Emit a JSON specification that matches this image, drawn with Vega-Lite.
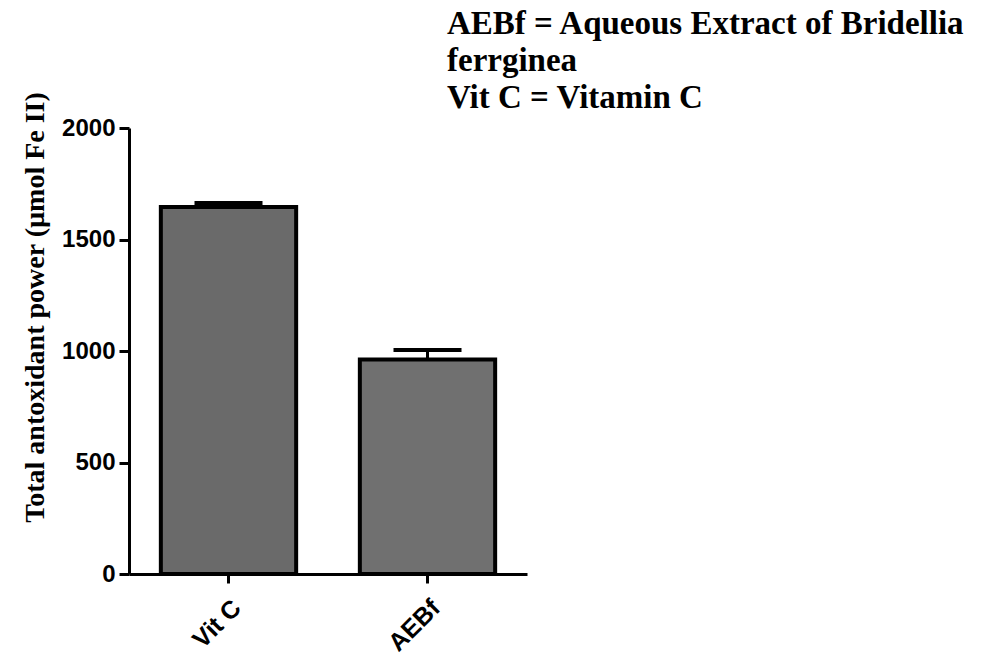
{
  "$schema": "https://vega.github.io/schema/vega-lite/v6.json",
  "autosize": "none",
  "width": 398,
  "height": 446,
  "padding": {"left": 129, "top": 128, "right": 470, "bottom": 83},
  "background": "white",
  "title": {
    "text": ["AEBf = Aqueous Extract of Bridellia", "ferrginea", "Vit C = Vitamin C"],
    "anchor": "start",
    "frame": "group",
    "dx": 318,
    "font": "Liberation Serif",
    "fontSize": 33,
    "fontWeight": "bold",
    "color": "black",
    "lineHeight": 37,
    "offset": -24
  },
  "config": {
    "view": {"stroke": null},
    "axis": {"grid": false, "domainColor": "black", "tickColor": "black", "labelColor": "black", "titleColor": "black"}
  },
  "data": {
    "values": [
      {"group": "Vit C", "value": 1646, "upper": 1664},
      {"group": "AEBf", "value": 962, "upper": 1004}
    ]
  },
  "encoding": {
    "x": {
      "field": "group",
      "type": "nominal",
      "sort": ["Vit C", "AEBf"],
      "scale": {"paddingInner": 0.32, "paddingOuter": 0.16},
      "axis": {
        "title": null,
        "labelAngle": -45,
        "labelFont": "Liberation Sans",
        "labelFontWeight": "bold",
        "labelFontSize": 25,
        "domainWidth": 3,
        "tickWidth": 3,
        "tickSize": 9,
        "labelPadding": 12
      }
    }
  },
  "layer": [
    {
      "mark": {"type": "rule", "strokeWidth": 3, "color": "black", "opacity": 1},
      "encoding": {
        "y": {"field": "value", "type": "quantitative"},
        "y2": {"field": "upper"}
      }
    },
    {
      "mark": {"type": "tick", "thickness": 4, "size": 68, "color": "black", "opacity": 1, "orient": "horizontal"},
      "encoding": {
        "y": {"field": "upper", "type": "quantitative"}
      }
    },
    {
      "mark": {"type": "bar", "stroke": "black", "strokeWidth": 4, "opacity": 1},
      "encoding": {
        "y": {
          "field": "value",
          "type": "quantitative",
          "scale": {"domain": [0, 2000], "nice": false},
          "axis": {
            "title": "Total antoxidant power (µmol Fe II)",
            "values": [0, 500, 1000, 1500, 2000],
            "format": "d",
            "labelFont": "Liberation Sans",
            "labelFontWeight": "bold",
            "labelFontSize": 24,
            "labelPadding": 4,
            "domainWidth": 3,
            "tickWidth": 3,
            "tickSize": 10,
            "titleFont": "Liberation Serif",
            "titleFontSize": 28,
            "titleFontWeight": "bold",
            "titleX": -86,
            "titleY": 179,
            "titleAlign": "center",
            "titleBaseline": "alphabetic",
            "titleAngle": -90
          }
        },
        "color": {
          "field": "group",
          "type": "nominal",
          "scale": {"domain": ["Vit C", "AEBf"], "range": ["#6a6a6a", "#707070"]},
          "legend": null
        }
      }
    }
  ]
}
